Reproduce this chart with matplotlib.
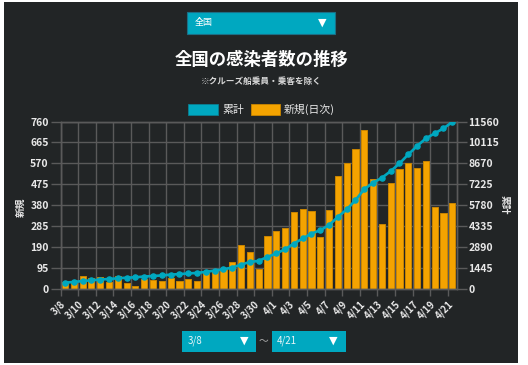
import numpy as np
import matplotlib
matplotlib.use("Agg")
import matplotlib.pyplot as plt
from matplotlib.patches import Rectangle

plt.rcParams['font.family'] = ['Noto Sans CJK JP', 'DejaVu Sans']

# ---- data ----
dates = ([f"3/{d}" for d in range(8, 32)] + [f"4/{d}" for d in range(1, 22)])
daily = [32, 27, 59, 50, 55, 35, 58, 30, 17, 45, 42, 38, 53, 39, 45, 38, 73, 85,
         91, 123, 200, 168, 92, 241,
         265, 276, 351, 364, 356, 239, 359, 512, 574, 635, 720, 498, 294, 480,
         545, 574, 551, 580, 373, 344, 389]
cumulative = [459, 505, 570, 620, 670, 710, 758, 800, 830, 880, 915, 955, 1010,
              1050, 1090, 1130, 1200, 1290, 1380, 1500, 1700, 1880, 1960, 2230,
              2470, 2760, 3150, 3500, 3840, 4070, 4420, 4990, 5500, 6140, 6900,
              7340, 7680, 8140, 8670, 9290, 9870, 10400, 10740, 11090, 11520]
left_ticks = [0, 95, 190, 285, 380, 475, 570, 665, 760]
right_ticks = [0, 1445, 2890, 4335, 5780, 7225, 8670, 10115, 11560]

title = "全国の感染者数の推移"
subtitle = "※クルーズ船乗員・乗客を除く"
legend_labels = ["累計", "新規(日次)"]

# ---- style ----
W, H = 528, 365
BG = "#222526"
TEAL = "#00a8c0"
ORANGE = "#f4a300"
ORANGE_EDGE = "#c98500"
GRID = "#5a5a5a"
TXT = "#e8e8e8"

fig = plt.figure(figsize=(W / 100, H / 100), dpi=100)
fig.patch.set_facecolor("white")


def fx(x):
    return x / W


def fy(y):
    return 1 - y / H


def prect(x0, y0, x1, y1, **kw):
    r = Rectangle((fx(x0), fy(y1)), fx(x1) - fx(x0), fy(y0) - fy(y1),
                  transform=fig.transFigure, **kw)
    fig.add_artist(r)
    return r


# dark panel
prect(4, 2, 518, 363, facecolor=BG, edgecolor="none", zorder=0)

# plot area
L, R, T, B = 60.6, 456.7, 121.5, 289.3
ax = fig.add_axes([fx(L), fy(B), (R - L) / W, (B - T) / H])
ax.set_facecolor("none")
x = np.arange(len(dates))
ax.bar(x, daily, width=0.7, color=ORANGE, edgecolor=ORANGE_EDGE,
       linewidth=0.7, zorder=2)
ax.set_xlim(-0.5, len(dates) - 0.5)
ax.set_ylim(0, 760)
ax.set_yticks(left_ticks)
ax.set_yticklabels([str(v) for v in left_ticks], fontsize=7.5,
                   fontweight="bold", color=TXT)
ax.set_xticks(x[::2] - 0.5)
ax.set_xticklabels(dates[::2], rotation=45, ha="right", va="top",
                   rotation_mode="anchor", fontsize=7, fontweight="bold",
                   color=TXT)
ax.tick_params(axis="y", length=7, width=1, color=GRID, pad=1.5)
ax.tick_params(axis="x", length=5, width=1, color=GRID, pad=2)
ax.grid(True, color=GRID, linewidth=1)
ax.set_axisbelow(True)
for s in ax.spines.values():
    s.set_color(GRID)
    s.set_linewidth(1)

ax2 = ax.twinx()
ax2.plot(x, cumulative, color=TEAL, linewidth=1.9, marker="o", markersize=3.7,
         zorder=3)
ax2.set_ylim(0, 11560)
ax2.set_yticks(right_ticks)
ax2.set_yticklabels([str(v) for v in right_ticks], fontsize=7.5,
                    fontweight="bold", color=TXT)
ax2.tick_params(axis="y", length=7, width=1, color=GRID, pad=1.5)
for s in ax2.spines.values():
    s.set_color(GRID)
    s.set_linewidth(1)

# axis titles
fig.text(fx(20.7), fy(207), "新規", rotation=90, ha="center", va="center",
         fontsize=7, fontweight="bold", color=TXT)
fig.text(fx(505), fy(205), "累計", rotation=-90, ha="center", va="center",
         fontsize=7, fontweight="bold", color=TXT)

# title
fig.text(fx(262), fy(60), title, ha="center", va="center", fontsize=12.5,
         fontweight="bold", color="white")
fig.text(fx(261), fy(81.5), subtitle, ha="center", va="center", fontsize=6.2,
         fontweight="bold", color="#d8d8d8")

# legend
prect(187.7, 104, 218.3, 115, facecolor=TEAL, edgecolor="#0a7f92",
      linewidth=0.6, zorder=2)
fig.text(fx(222), fy(109.5), legend_labels[0], ha="left", va="center",
         fontsize=7.8, color=TXT)
prect(250.7, 104, 280, 115, facecolor=ORANGE, edgecolor=ORANGE_EDGE,
      linewidth=0.6, zorder=2)
fig.text(fx(284), fy(109.5), legend_labels[1], ha="left", va="center",
         fontsize=7.8, color=TXT)

# dropdowns
DD_EDGE = "#1b6f86"
prect(186.7, 12.3, 335, 34.3, facecolor=TEAL, edgecolor=DD_EDGE,
      linewidth=0.8, zorder=2)
fig.text(fx(195), fy(23), "全国", ha="left", va="center", fontsize=6.5,
         color="white")
fig.text(fx(322), fy(22.5), "▼", ha="center", va="center", fontsize=8,
         color="white", family=["DejaVu Sans"])

prect(182, 331, 255.7, 351.7, facecolor=TEAL, edgecolor="none", zorder=2)
fig.text(fx(187.5), fy(341), dates[0], ha="left", va="center", fontsize=7,
         color="#e8f6f8")
fig.text(fx(244), fy(340.5), "▼", ha="center", va="center", fontsize=8,
         color="white", family=["DejaVu Sans"])
fig.text(fx(263.7), fy(340), "～", ha="center", va="center", fontsize=7,
         color="#b0b0b0")
prect(271.7, 331, 345.7, 351.7, facecolor=TEAL, edgecolor="none", zorder=2)
fig.text(fx(277), fy(341), dates[-1], ha="left", va="center", fontsize=7,
         color="#e8f6f8")
fig.text(fx(333.5), fy(340.5), "▼", ha="center", va="center", fontsize=8,
         color="white", family=["DejaVu Sans"])

fig.savefig("out.png", dpi=100, facecolor=fig.get_facecolor())
